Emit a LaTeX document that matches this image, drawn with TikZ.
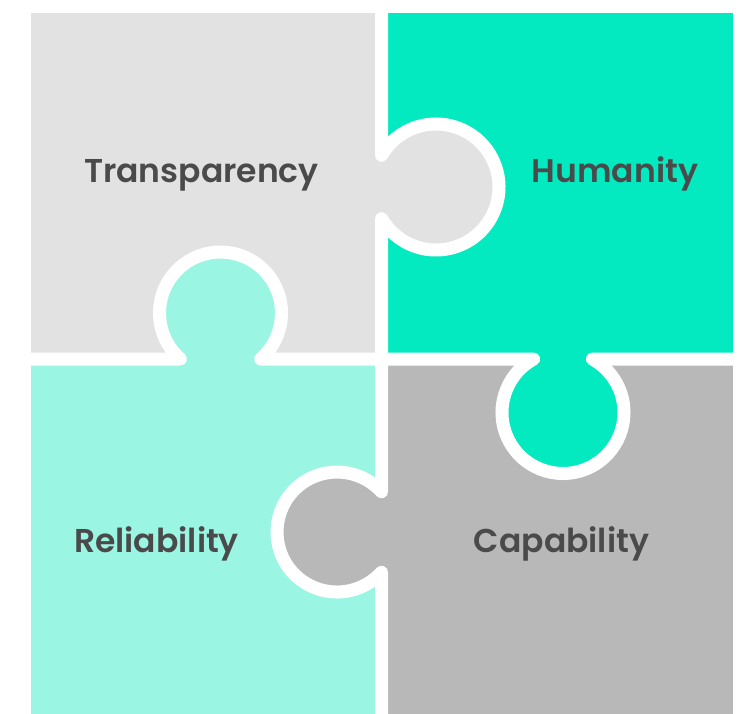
\documentclass[tikz,border=0pt]{standalone}
\usepackage{fontspec}
\setmainfont{Poppins}[BoldFont={Poppins SemiBold}]

\definecolor{grisclair}{HTML}{E2E2E2}
\definecolor{vertvif}{HTML}{03E9C0}
\definecolor{vertpale}{HTML}{9AF5E3}
\definecolor{grisfonce}{HTML}{B8B8B8}
\definecolor{texte}{HTML}{4A4A4A}

\tikzset{
  coupe/.style={draw=white, line width=13pt, line join=round},
  etiquette/.style={anchor=base, text=texte, font=\bfseries\fontsize{33}{38}\selectfont}
}

\begin{document}
\begin{tikzpicture}[x=1pt,y=-1pt]
\useasboundingbox (0,0) rectangle (747,714);

% Pièces
\fill[grisclair] (31,13) rectangle (381.5,359);
\fill[vertvif] (381.5,13) rectangle (733,359);
\fill[vertpale] (31,359) rectangle (381.5,714);
\fill[grisfonce] (381.5,359) rectangle (733,714);

% Tenons
\fill[grisclair] (436,187) circle[radius=63];
\fill[vertpale] (220.5,313) circle[radius=61];
\fill[vertvif] (563,412.5) circle[radius=61];
\fill[grisfonce] (337,532) circle[radius=60];

% Découpes
\draw[coupe] (381.5,13) -- (381.5,155.4)
  arc[start angle=-149.9, end angle=149.9, radius=63] -- (381.5,491.8)
  arc[start angle=-42.1, end angle=-317.9, radius=60] -- (381.5,714);
\draw[coupe] (31,359) -- (180.4,359)
  arc[start angle=131.1, end angle=408.9, radius=61] -- (533.7,359)
  arc[start angle=-118.7, end angle=-421.3, radius=61] -- (733,359);

% Textes
\node[etiquette] (transparency) at (201.5,182.5) {Transparency};
\node[etiquette] (humanity) at (615,182.5) {Humanity};
\node[etiquette] (reliability) at (156.5,552.5) {Reliability};
\node[etiquette] (capability) at (561.5,552.5) {Capability};

\end{tikzpicture}
\end{document}
